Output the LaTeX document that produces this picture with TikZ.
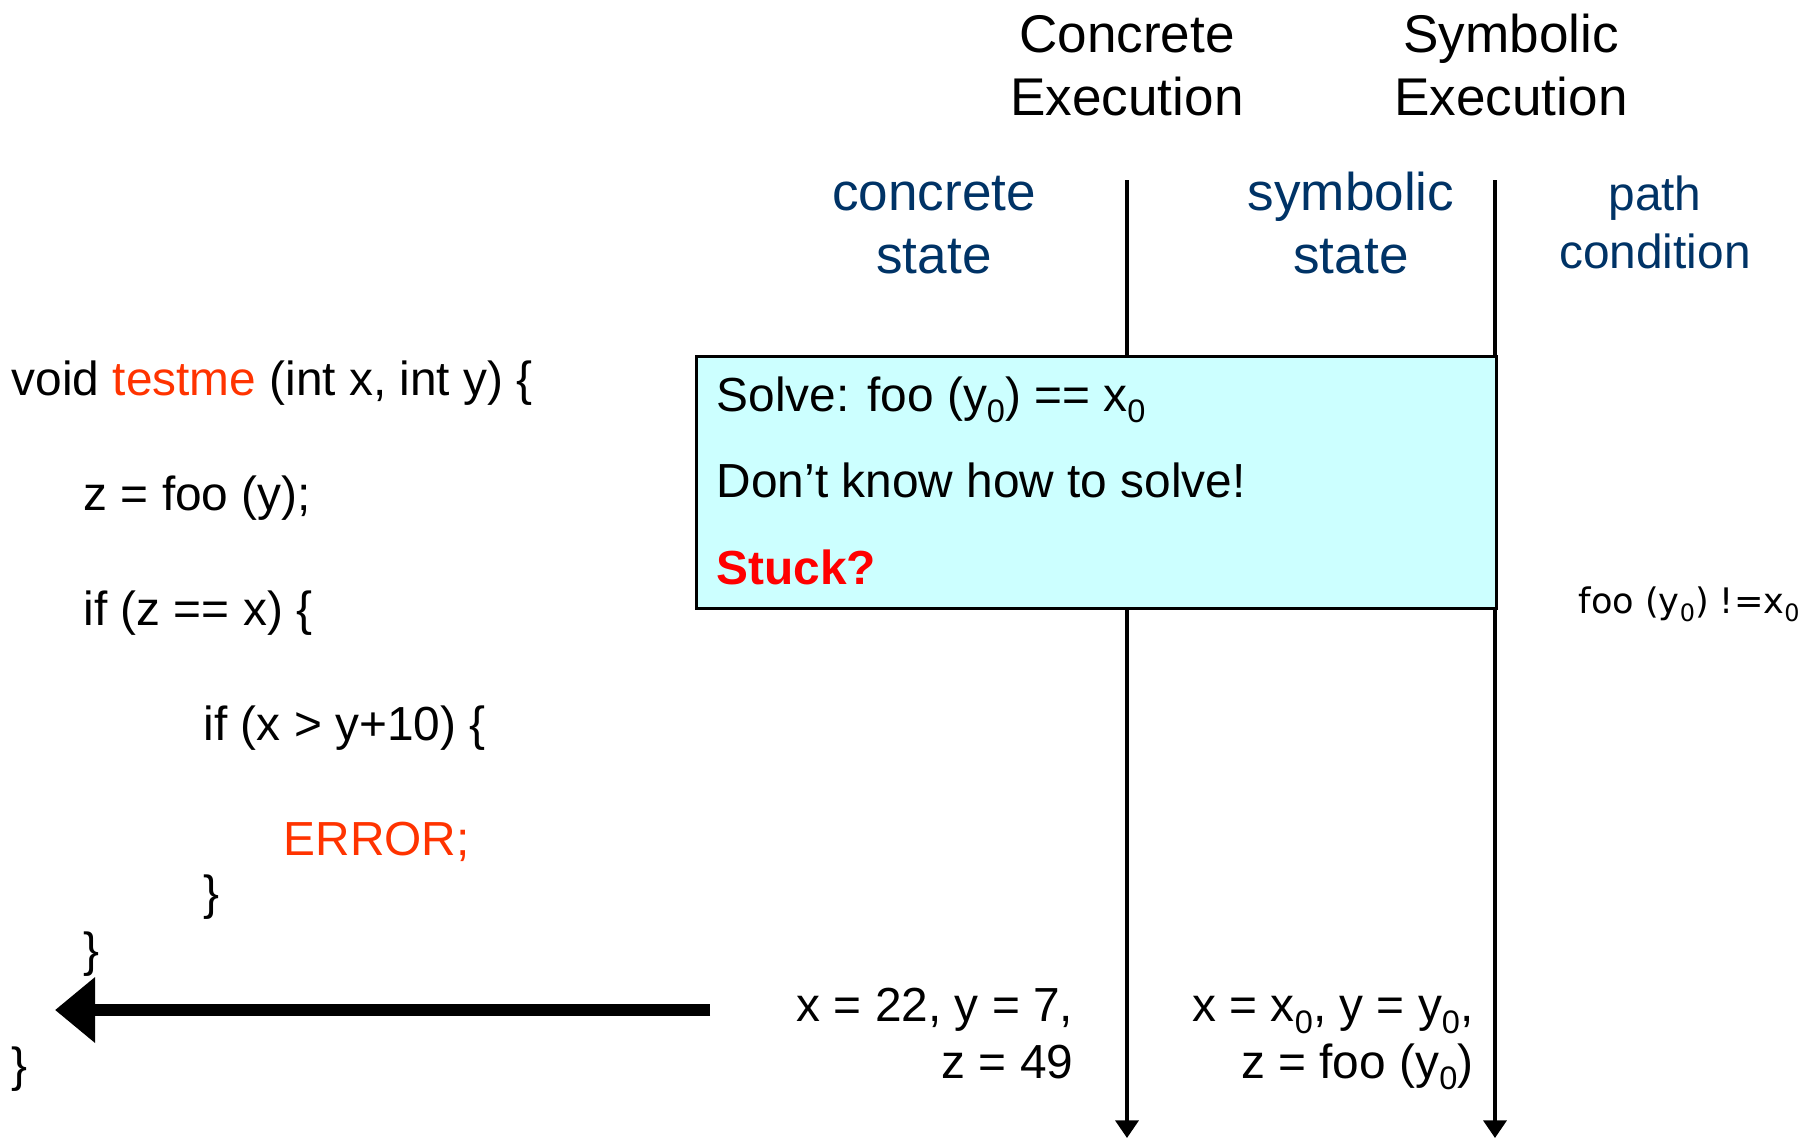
\documentclass[tikz,border=0pt]{standalone}
\usepackage{fontspec}
\setmainfont{Liberation Sans}
\newfontfamily\pcfont{DejaVu Sans}
\usetikzlibrary{arrows.meta}
\definecolor{statecol}{RGB}{0,51,102}
\definecolor{codered}{RGB}{255,51,0}
\definecolor{solvefill}{RGB}{204,255,255}
\newcommand{\zero}{\raisebox{-0.45ex}{\scalebox{0.68}{0}}}

\begin{document}
\begin{tikzpicture}[x=0.01cm, y=-0.01cm, every node/.style={inner sep=0pt},
	head/.style={font=\fontsize{15.1}{17.9}\selectfont, align=center, anchor=base},
	statelbl/.style={head, text=statecol},
	code/.style={font=\fontsize{13.6}{16}\selectfont, anchor=base west},
	vals/.style={font=\fontsize{13.6}{16}\selectfont, anchor=base east, align=right},
	timeline/.style={line width=1.1pt, -{Triangle[length=5pt, width=6.5pt]}}]
	\useasboundingbox (0,0) rectangle (1802,1139);
	\node[head] (concexec) at (1127,115) {Concrete\\Execution};
	\node[head] (symexec) at (1511,115) {Symbolic\\Execution};
	\node[statelbl] (concstate) at (934,273) {concrete\\state};
	\node[statelbl] (symstate) at (1351,273) {symbolic\\state};
	\node[statelbl, font=\fontsize{13.6}{16.3}\selectfont] (pathcond) at (1655,268) {path\\condition};
	\coordinate (ctop) at (1127,180);
	\coordinate (cbot) at (1127,1138);
	\coordinate (stop) at (1495,180);
	\coordinate (sbot) at (1495,1138);
	\draw[timeline] (ctop) -- (cbot);
	\draw[timeline] (stop) -- (sbot);
	\node[draw, line width=0.8pt, fill=solvefill, minimum width=8cm, minimum height=2.52cm, anchor=north west] (solve) at (695,355) {};
	\node[code] (solveeq) at (716,411) {Solve: foo (y\zero) == x\zero};
	\node[code] (dontknow) at (716,497) {Don’t know how to solve!};
	\node[code, text=red, font=\fontsize{13.6}{16}\selectfont\bfseries] (stuck) at (716,584) {Stuck?};
	\node[anchor=base west, font=\pcfont\fontsize{10}{12}\selectfont] (pcval) at (1578,613) {foo (y\zero) !=x\zero};
	\node[code] (l1) at (11,395) {void \textcolor{codered}{testme} (int x, int y) \{};
	\node[code] (l2) at (83,510) {z = foo (y);};
	\node[code] (l3) at (83,625) {if (z == x) \{};
	\node[code] (l4) at (203,740) {if (x > y+10) \{};
	\node[code, text=codered] (l5) at (283,855) {ERROR;};
	\node[code] (l6) at (203,909) {\}};
	\node[code] (l7) at (83,966) {\}};
	\node[code] (l8) at (11,1081) {\}};
	\coordinate (backfrom) at (710,1010);
	\coordinate (backto) at (55,1010);
	\draw[line width=3.3pt, -{Triangle[length=11.4pt, width=18pt]}] (backfrom) -- (backto);
	\node[vals] (concvals) at (1074,1078) {x = 22, y = 7,\\z = 49};
	\node[vals] (symvals) at (1474,1078) {x = x\zero, y = y\zero,\\z = foo (y\zero)};
\end{tikzpicture}
\end{document}
